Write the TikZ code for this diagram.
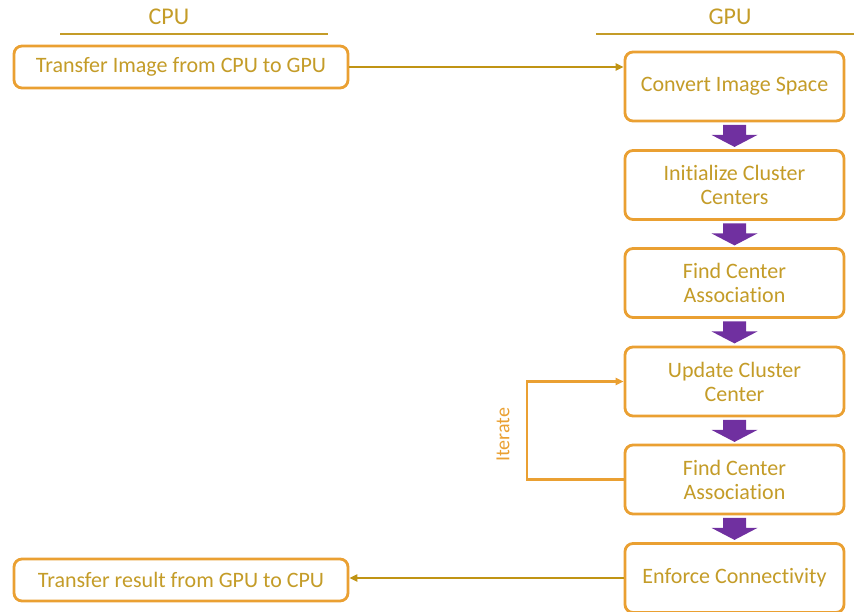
\documentclass[tikz,border=0pt]{standalone}
\usepackage{fontspec}
\setmainfont[Ligatures=NoCommon]{Carlito}
\usetikzlibrary{arrows.meta,calc}
\definecolor{gtext}{RGB}{196,156,40}
\definecolor{gline}{RGB}{192,148,20}
\definecolor{obox}{RGB}{234,160,50}
\definecolor{vio}{RGB}{112,48,160}
\tikzset{
  stepbox/.style={draw=obox,line width=2.8pt,rounded corners=8pt,fill=white,
    text=gtext,font=\fontsize{22}{24}\selectfont,align=center,inner sep=0pt},
  cpubox/.style={stepbox,minimum width=334pt,minimum height=42pt},
  gpubox/.style={stepbox,minimum width=219pt,minimum height=69pt},
  head/.style={text=gtext,font=\fontsize{24}{26}\selectfont},
  rule/.style={draw=gtext,line width=1.3pt},
  link/.style={draw=gline,line width=2.2pt,-{Triangle[length=8pt,width=7pt]}},
  loop/.style={draw=obox,line width=2.6pt,-{Triangle[length=8pt,width=7pt]}},
}
% purple block arrow between two stacked boxes
\newcommand{\downblock}[1]{%
  \fill[vio] ($(#1.south)+(-11.5,2.5)$) -- ++(23,0) -- ++(0,10) -- ++(11.5,0)
    -- ($(#1.south)+(0,24.5)$) -- ++(-23,-12) -- ++(11.5,0) -- cycle;}
\begin{document}
\begin{tikzpicture}[x=1pt,y=-1pt]
\useasboundingbox (0,0) rectangle (854,612);

% column headers
\node[head] (hcpu) at (169,17) {CPU};
\node[head] (hgpu) at (730,17) {GPU};
\draw[rule] (60,34) -- (328,34);
\draw[rule] (596,34) -- (854,34);

% CPU side
\node[cpubox] (tin) at (181,67) {Transfer Image from CPU to GPU};
\node[cpubox] (tout) at (181,580) {Transfer result from GPU to CPU};

% GPU pipeline
\node[gpubox] (conv) at (734.5,86.5) {Convert Image Space};
\node[gpubox] (init) at (734.5,185) {Initialize Cluster\\Centers};
\node[gpubox] (find) at (734.5,283) {Find Center\\Association};
\node[gpubox] (upd)  at (734.5,381.5) {Update Cluster\\Center};
\node[gpubox] (find2) at (734.5,479.5) {Find Center\\Association};
\node[gpubox] (enf)  at (734.5,578) {Enforce Connectivity};

\downblock{conv}
\downblock{init}
\downblock{find}
\downblock{upd}
\downblock{find2}

% transfers between host and device
\draw[link] (tin.east) -- (tin.east -| conv.west);
\draw[link] (enf.west) -- (enf.west -| tout.east);

% iteration loop
\coordinate (lp) at (527,0);
\draw[loop] (find2.west) -- (find2.west -| lp) -- (upd.west -| lp) -- (upd.west);
\node[text=obox,font=\fontsize{20}{22}\selectfont,rotate=90] (it) at (503,435) {Iterate};
\end{tikzpicture}
\end{document}
